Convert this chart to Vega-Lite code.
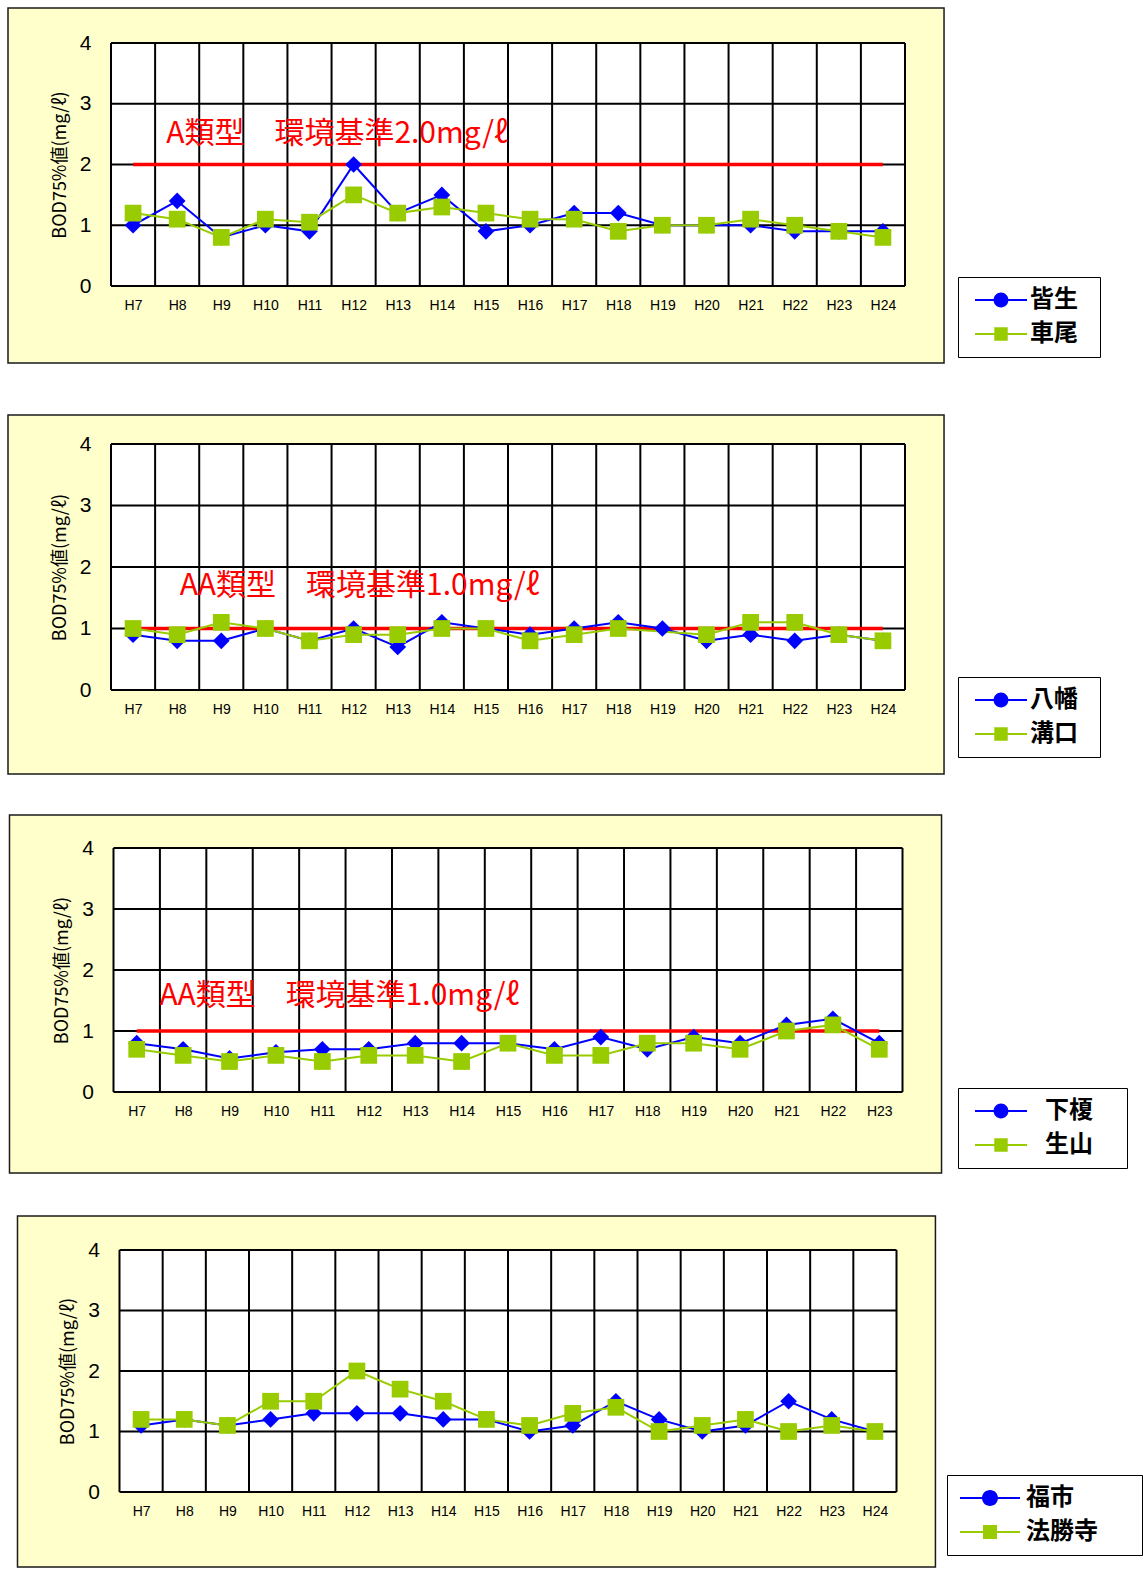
{
  "$schema": "https://vega.github.io/schema/vega-lite/v6.json",
  "background": "white",
  "padding": {"left": 7, "top": 7, "right": 0, "bottom": 0},
  "config": {
    "view": {"stroke": null},
    "axis": {"grid": false, "ticks": false, "tickSize": 0, "domain": false, "labelColor": "black", "titleColor": "black"},
    "axisX": {"labelFont": "Liberation Sans", "labelFontSize": 14, "labelPadding": 12},
    "axisY": {"labelFont": "Liberation Sans", "labelFontSize": 21, "labelPadding": 20, "titleFont": "Noto Sans CJK JP", "titleFontSize": 18, "titleFontWeight": "normal", "titlePadding": 10},
    "legend": {"padding": 11, "symbolSize": 576, "symbolOffset": 20, "labelFontSize": 24, "labelFont": "Noto Sans CJK JP", "labelFontWeight": "bold", "labelColor": "black", "strokeColor": "black", "fillColor": "white", "rowPadding": 10, "labelOffset": 17, "symbolStrokeWidth": 0, "symbolOpacity": 1}
  },
  "datasets": {
    "p1": [
      {"site": "皆生", "year": 7, "value": 1.0}, {"site": "皆生", "year": 8, "value": 1.4}, {"site": "皆生", "year": 9, "value": 0.8}, {"site": "皆生", "year": 10, "value": 1.0}, {"site": "皆生", "year": 11, "value": 0.9}, {"site": "皆生", "year": 12, "value": 2.0}, {"site": "皆生", "year": 13, "value": 1.2}, {"site": "皆生", "year": 14, "value": 1.5}, {"site": "皆生", "year": 15, "value": 0.9}, {"site": "皆生", "year": 16, "value": 1.0}, {"site": "皆生", "year": 17, "value": 1.2}, {"site": "皆生", "year": 18, "value": 1.2}, {"site": "皆生", "year": 19, "value": 1.0}, {"site": "皆生", "year": 20, "value": 1.0}, {"site": "皆生", "year": 21, "value": 1.0}, {"site": "皆生", "year": 22, "value": 0.9}, {"site": "皆生", "year": 23, "value": 0.9}, {"site": "皆生", "year": 24, "value": 0.9},
      {"site": "車尾", "year": 7, "value": 1.2}, {"site": "車尾", "year": 8, "value": 1.1}, {"site": "車尾", "year": 9, "value": 0.8}, {"site": "車尾", "year": 10, "value": 1.1}, {"site": "車尾", "year": 11, "value": 1.05}, {"site": "車尾", "year": 12, "value": 1.5}, {"site": "車尾", "year": 13, "value": 1.2}, {"site": "車尾", "year": 14, "value": 1.3}, {"site": "車尾", "year": 15, "value": 1.2}, {"site": "車尾", "year": 16, "value": 1.1}, {"site": "車尾", "year": 17, "value": 1.1}, {"site": "車尾", "year": 18, "value": 0.9}, {"site": "車尾", "year": 19, "value": 1.0}, {"site": "車尾", "year": 20, "value": 1.0}, {"site": "車尾", "year": 21, "value": 1.1}, {"site": "車尾", "year": 22, "value": 1.0}, {"site": "車尾", "year": 23, "value": 0.9}, {"site": "車尾", "year": 24, "value": 0.8}
    ],
    "p2": [
      {"site": "八幡", "year": 7, "value": 0.9}, {"site": "八幡", "year": 8, "value": 0.8}, {"site": "八幡", "year": 9, "value": 0.8}, {"site": "八幡", "year": 10, "value": 1.0}, {"site": "八幡", "year": 11, "value": 0.8}, {"site": "八幡", "year": 12, "value": 1.0}, {"site": "八幡", "year": 13, "value": 0.7}, {"site": "八幡", "year": 14, "value": 1.1}, {"site": "八幡", "year": 15, "value": 1.0}, {"site": "八幡", "year": 16, "value": 0.9}, {"site": "八幡", "year": 17, "value": 1.0}, {"site": "八幡", "year": 18, "value": 1.1}, {"site": "八幡", "year": 19, "value": 1.0}, {"site": "八幡", "year": 20, "value": 0.8}, {"site": "八幡", "year": 21, "value": 0.9}, {"site": "八幡", "year": 22, "value": 0.8}, {"site": "八幡", "year": 23, "value": 0.9}, {"site": "八幡", "year": 24, "value": 0.8},
      {"site": "溝口", "year": 7, "value": 1.0}, {"site": "溝口", "year": 8, "value": 0.9}, {"site": "溝口", "year": 9, "value": 1.1}, {"site": "溝口", "year": 10, "value": 1.0}, {"site": "溝口", "year": 11, "value": 0.8}, {"site": "溝口", "year": 12, "value": 0.9}, {"site": "溝口", "year": 13, "value": 0.9}, {"site": "溝口", "year": 14, "value": 1.0}, {"site": "溝口", "year": 15, "value": 1.0}, {"site": "溝口", "year": 16, "value": 0.8}, {"site": "溝口", "year": 17, "value": 0.9}, {"site": "溝口", "year": 18, "value": 1.0}, {"site": "溝口", "year": 20, "value": 0.9}, {"site": "溝口", "year": 21, "value": 1.1}, {"site": "溝口", "year": 22, "value": 1.1}, {"site": "溝口", "year": 23, "value": 0.9}, {"site": "溝口", "year": 24, "value": 0.8}
    ],
    "p3": [
      {"site": "下榎", "year": 7, "value": 0.8}, {"site": "下榎", "year": 8, "value": 0.7}, {"site": "下榎", "year": 9, "value": 0.55}, {"site": "下榎", "year": 10, "value": 0.65}, {"site": "下榎", "year": 11, "value": 0.7}, {"site": "下榎", "year": 12, "value": 0.7}, {"site": "下榎", "year": 13, "value": 0.8}, {"site": "下榎", "year": 14, "value": 0.8}, {"site": "下榎", "year": 15, "value": 0.8}, {"site": "下榎", "year": 16, "value": 0.7}, {"site": "下榎", "year": 17, "value": 0.9}, {"site": "下榎", "year": 18, "value": 0.7}, {"site": "下榎", "year": 19, "value": 0.9}, {"site": "下榎", "year": 20, "value": 0.8}, {"site": "下榎", "year": 21, "value": 1.1}, {"site": "下榎", "year": 22, "value": 1.2}, {"site": "下榎", "year": 23, "value": 0.8},
      {"site": "生山", "year": 7, "value": 0.7}, {"site": "生山", "year": 8, "value": 0.6}, {"site": "生山", "year": 9, "value": 0.5}, {"site": "生山", "year": 10, "value": 0.6}, {"site": "生山", "year": 11, "value": 0.5}, {"site": "生山", "year": 12, "value": 0.6}, {"site": "生山", "year": 13, "value": 0.6}, {"site": "生山", "year": 14, "value": 0.5}, {"site": "生山", "year": 15, "value": 0.8}, {"site": "生山", "year": 16, "value": 0.6}, {"site": "生山", "year": 17, "value": 0.6}, {"site": "生山", "year": 18, "value": 0.8}, {"site": "生山", "year": 19, "value": 0.8}, {"site": "生山", "year": 20, "value": 0.7}, {"site": "生山", "year": 21, "value": 1.0}, {"site": "生山", "year": 22, "value": 1.1}, {"site": "生山", "year": 23, "value": 0.7}
    ],
    "p4": [
      {"site": "福市", "year": 7, "value": 1.1}, {"site": "福市", "year": 8, "value": 1.2}, {"site": "福市", "year": 9, "value": 1.1}, {"site": "福市", "year": 10, "value": 1.2}, {"site": "福市", "year": 11, "value": 1.3}, {"site": "福市", "year": 12, "value": 1.3}, {"site": "福市", "year": 13, "value": 1.3}, {"site": "福市", "year": 14, "value": 1.2}, {"site": "福市", "year": 15, "value": 1.2}, {"site": "福市", "year": 16, "value": 1.0}, {"site": "福市", "year": 17, "value": 1.1}, {"site": "福市", "year": 18, "value": 1.5}, {"site": "福市", "year": 19, "value": 1.2}, {"site": "福市", "year": 20, "value": 1.0}, {"site": "福市", "year": 21, "value": 1.1}, {"site": "福市", "year": 22, "value": 1.5}, {"site": "福市", "year": 23, "value": 1.2}, {"site": "福市", "year": 24, "value": 1.0},
      {"site": "法勝寺", "year": 7, "value": 1.2}, {"site": "法勝寺", "year": 8, "value": 1.2}, {"site": "法勝寺", "year": 9, "value": 1.1}, {"site": "法勝寺", "year": 10, "value": 1.5}, {"site": "法勝寺", "year": 11, "value": 1.5}, {"site": "法勝寺", "year": 12, "value": 2.0}, {"site": "法勝寺", "year": 13, "value": 1.7}, {"site": "法勝寺", "year": 14, "value": 1.5}, {"site": "法勝寺", "year": 15, "value": 1.2}, {"site": "法勝寺", "year": 16, "value": 1.1}, {"site": "法勝寺", "year": 17, "value": 1.3}, {"site": "法勝寺", "year": 18, "value": 1.4}, {"site": "法勝寺", "year": 19, "value": 1.0}, {"site": "法勝寺", "year": 20, "value": 1.1}, {"site": "法勝寺", "year": 21, "value": 1.2}, {"site": "法勝寺", "year": 22, "value": 1.0}, {"site": "法勝寺", "year": 23, "value": 1.1}, {"site": "法勝寺", "year": 24, "value": 1.0}
    ],
    "vgrid18": [{"g": 6.5}, {"g": 7.5}, {"g": 8.5}, {"g": 9.5}, {"g": 10.5}, {"g": 11.5}, {"g": 12.5}, {"g": 13.5}, {"g": 14.5}, {"g": 15.5}, {"g": 16.5}, {"g": 17.5}, {"g": 18.5}, {"g": 19.5}, {"g": 20.5}, {"g": 21.5}, {"g": 22.5}, {"g": 23.5}, {"g": 24.5}],
    "vgrid17": [{"g": 6.5}, {"g": 7.5}, {"g": 8.5}, {"g": 9.5}, {"g": 10.5}, {"g": 11.5}, {"g": 12.5}, {"g": 13.5}, {"g": 14.5}, {"g": 15.5}, {"g": 16.5}, {"g": 17.5}, {"g": 18.5}, {"g": 19.5}, {"g": 20.5}, {"g": 21.5}, {"g": 22.5}, {"g": 23.5}],
    "hgrid": [{"g": 0}, {"g": 1}, {"g": 2}, {"g": 3}, {"g": 4}]
  },
  "bounds": "flush",
  "center": true,
  "spacing": 158,
  "resolve": {"scale": {"color": "independent", "shape": "independent"}, "legend": {"color": "independent", "shape": "independent"}},
  "vconcat": [
    {
      "width": 794, "height": 243,
      "data": {"name": "p1"},
      "layer": [
        {"mark": {"type": "point", "filled": true, "opacity": 1}, "encoding": {
          "x": {"field": "year", "type": "quantitative", "scale": {"domain": [6.5, 24.5], "nice": false, "zero": false}, "axis": {"values": [7, 8, 9, 10, 11, 12, 13, 14, 15, 16, 17, 18, 19, 20, 21, 22, 23, 24], "labelExpr": "'H' + datum.value", "title": null, "labelFlush": false, "labelOverlap": false, "zindex": 1}},
          "y": {"field": "value", "type": "quantitative", "scale": {"domain": [0, 4], "nice": false, "zero": false}, "axis": {"values": [0, 1, 2, 3, 4], "format": "d", "title": "BOD75%値(mg/ℓ)", "labelFlush": false, "zindex": 1}},
          "color": {"field": "site", "type": "nominal", "scale": {"domain": ["皆生", "車尾"], "range": ["#0000FF", "#99CC00"]}, "legend": {"orient": "none", "legendX": 847, "legendY": 234, "title": null}},
          "shape": {"field": "site", "type": "nominal", "scale": {"domain": ["皆生", "車尾"], "range": ["M-2.1667,-0.083L2.1667,-0.083L2.1667,0.083L-2.1667,0.083Z M0.617,0A0.617,0.617 0 1 1 -0.617,0A0.617,0.617 0 1 1 0.617,0Z M-2.6667,0 M7.33,0", "M-2.1667,-0.083L2.1667,-0.083L2.1667,0.083L-2.1667,0.083Z M-0.56,-0.56L0.56,-0.56L0.56,0.56L-0.56,0.56Z M-2.6667,0 M7.33,0"]}, "legend": {"orient": "none", "legendX": 847, "legendY": 234, "title": null}}}},
        {"data": {"values": [{}]}, "mark": {"type": "rect", "fill": "#FFFFCC", "stroke": "#1a1a1a", "strokeWidth": 1.5}, "encoding": {"x": {"datum": 4.165}, "x2": {"datum": 25.385}, "y": {"datum": 4.576}, "y2": {"datum": -1.267}}},
        {"data": {"values": [{}]}, "mark": {"type": "rect", "fill": "white"}, "encoding": {"x": {"datum": 6.5}, "x2": {"datum": 24.5}, "y": {"datum": 0}, "y2": {"datum": 4}}},
        {"data": {"values": [{}]}, "mark": {"type": "rect", "fill": "white"}, "encoding": {"x": {"datum": 7.5}, "x2": {"datum": 16.0}, "y": {"datum": 2.05}, "y2": {"datum": 2.985}}},
        {"data": {"name": "vgrid18"}, "mark": {"type": "rule", "color": "black", "strokeWidth": 2}, "encoding": {"x": {"field": "g", "type": "quantitative"}}},
        {"data": {"name": "hgrid"}, "mark": {"type": "rule", "color": "black", "strokeWidth": 2}, "encoding": {"y": {"field": "g", "type": "quantitative"}}},
        {"data": {"values": [{}]}, "mark": {"type": "rule", "color": "#FF0000", "strokeWidth": 3.5}, "encoding": {"x": {"datum": 7}, "x2": {"datum": 24}, "y": {"datum": 2}}},
        {"data": {"values": [{}]}, "mark": {"type": "text", "text": "A類型　環境基準2.0mg/ℓ", "align": "left", "baseline": "middle", "font": "Noto Sans CJK JP", "fontSize": 30, "color": "#FF0000"}, "encoding": {"x": {"datum": 7.75}, "y": {"datum": 2.5}}},
        {"mark": {"type": "line", "strokeWidth": 2}, "encoding": {
          "x": {"field": "year", "type": "quantitative"},
          "y": {"field": "value", "type": "quantitative"},
          "color": {"field": "site", "type": "nominal", "legend": null}}},
        {"mark": {"type": "point", "filled": true, "opacity": 1, "size": 280}, "encoding": {
          "x": {"field": "year", "type": "quantitative"},
          "y": {"field": "value", "type": "quantitative"},
          "color": {"field": "site", "type": "nominal", "legend": null},
          "shape": {"condition": {"test": "datum.site === '皆生'", "value": "diamond"}, "value": "square"}}}
      ]
    },
    {
      "width": 794, "height": 246,
      "data": {"name": "p2"},
      "layer": [
        {"mark": {"type": "point", "filled": true, "opacity": 1}, "encoding": {
          "x": {"field": "year", "type": "quantitative", "scale": {"domain": [6.5, 24.5], "nice": false, "zero": false}, "axis": {"values": [7, 8, 9, 10, 11, 12, 13, 14, 15, 16, 17, 18, 19, 20, 21, 22, 23, 24], "labelExpr": "'H' + datum.value", "title": null, "labelFlush": false, "labelOverlap": false, "zindex": 1}},
          "y": {"field": "value", "type": "quantitative", "scale": {"domain": [0, 4], "nice": false, "zero": false}, "axis": {"values": [0, 1, 2, 3, 4], "format": "d", "title": "BOD75%値(mg/ℓ)", "labelFlush": false, "zindex": 1}},
          "color": {"field": "site", "type": "nominal", "scale": {"domain": ["八幡", "溝口"], "range": ["#0000FF", "#99CC00"]}, "legend": {"orient": "none", "legendX": 847, "legendY": 233, "title": null}},
          "shape": {"field": "site", "type": "nominal", "scale": {"domain": ["八幡", "溝口"], "range": ["M-2.1667,-0.083L2.1667,-0.083L2.1667,0.083L-2.1667,0.083Z M0.617,0A0.617,0.617 0 1 1 -0.617,0A0.617,0.617 0 1 1 0.617,0Z M-2.6667,0 M7.33,0", "M-2.1667,-0.083L2.1667,-0.083L2.1667,0.083L-2.1667,0.083Z M-0.56,-0.56L0.56,-0.56L0.56,0.56L-0.56,0.56Z M-2.6667,0 M7.33,0"]}, "legend": {"orient": "none", "legendX": 847, "legendY": 233, "title": null}}}},
        {"data": {"values": [{}]}, "mark": {"type": "rect", "fill": "#FFFFCC", "stroke": "#1a1a1a", "strokeWidth": 1.5}, "encoding": {"x": {"datum": 4.165}, "x2": {"datum": 25.385}, "y": {"datum": 4.472}, "y2": {"datum": -1.366}}},
        {"data": {"values": [{}]}, "mark": {"type": "rect", "fill": "white"}, "encoding": {"x": {"datum": 6.5}, "x2": {"datum": 24.5}, "y": {"datum": 0}, "y2": {"datum": 4}}},
        {"data": {"values": [{}]}, "mark": {"type": "rect", "fill": "white"}, "encoding": {"x": {"datum": 7.5}, "x2": {"datum": 17.8}, "y": {"datum": 1.33}, "y2": {"datum": 2.1}}},
        {"data": {"name": "vgrid18"}, "mark": {"type": "rule", "color": "black", "strokeWidth": 2}, "encoding": {"x": {"field": "g", "type": "quantitative"}}},
        {"data": {"name": "hgrid"}, "mark": {"type": "rule", "color": "black", "strokeWidth": 2}, "encoding": {"y": {"field": "g", "type": "quantitative"}}},
        {"data": {"values": [{}]}, "mark": {"type": "rule", "color": "#FF0000", "strokeWidth": 3.5}, "encoding": {"x": {"datum": 7}, "x2": {"datum": 24}, "y": {"datum": 1}}},
        {"data": {"values": [{}]}, "mark": {"type": "text", "text": "AA類型　環境基準1.0mg/ℓ", "align": "left", "baseline": "middle", "font": "Noto Sans CJK JP", "fontSize": 30, "color": "#FF0000"}, "encoding": {"x": {"datum": 8.06}, "y": {"datum": 1.69}}},
        {"mark": {"type": "line", "strokeWidth": 2}, "encoding": {
          "x": {"field": "year", "type": "quantitative"},
          "y": {"field": "value", "type": "quantitative"},
          "color": {"field": "site", "type": "nominal", "legend": null}}},
        {"mark": {"type": "point", "filled": true, "opacity": 1, "size": 280}, "encoding": {
          "x": {"field": "year", "type": "quantitative"},
          "y": {"field": "value", "type": "quantitative"},
          "color": {"field": "site", "type": "nominal", "legend": null},
          "shape": {"condition": {"test": "datum.site === '八幡'", "value": "diamond"}, "value": "square"}}}
      ]
    },
    {
      "width": 789, "height": 244,
      "data": {"name": "p3"},
      "layer": [
        {"mark": {"type": "point", "filled": true, "opacity": 1}, "encoding": {
          "x": {"field": "year", "type": "quantitative", "scale": {"domain": [6.5, 23.5], "nice": false, "zero": false}, "axis": {"values": [7, 8, 9, 10, 11, 12, 13, 14, 15, 16, 17, 18, 19, 20, 21, 22, 23], "labelExpr": "'H' + datum.value", "title": null, "labelFlush": false, "labelOverlap": false, "zindex": 1}},
          "y": {"field": "value", "type": "quantitative", "scale": {"domain": [0, 4], "nice": false, "zero": false}, "axis": {"values": [0, 1, 2, 3, 4], "format": "d", "title": "BOD75%値(mg/ℓ)", "labelFlush": false, "zindex": 1}},
          "color": {"field": "site", "type": "nominal", "scale": {"domain": ["下榎", "生山"], "range": ["#0000FF", "#99CC00"]}, "legend": {"orient": "none", "legendX": 844.5, "legendY": 240, "title": null, "labelOffset": 32}},
          "shape": {"field": "site", "type": "nominal", "scale": {"domain": ["下榎", "生山"], "range": ["M-2.1667,-0.083L2.1667,-0.083L2.1667,0.083L-2.1667,0.083Z M0.617,0A0.617,0.617 0 1 1 -0.617,0A0.617,0.617 0 1 1 0.617,0Z M-2.6667,0 M9.58,0", "M-2.1667,-0.083L2.1667,-0.083L2.1667,0.083L-2.1667,0.083Z M-0.56,-0.56L0.56,-0.56L0.56,0.56L-0.56,0.56Z M-2.6667,0 M9.58,0"]}, "legend": {"orient": "none", "legendX": 844.5, "legendY": 240, "title": null, "labelOffset": 32}}}},
        {"data": {"values": [{}]}, "mark": {"type": "rect", "fill": "#FFFFCC", "stroke": "#1a1a1a", "strokeWidth": 1.5}, "encoding": {"x": {"datum": 4.259}, "x2": {"datum": 24.341}, "y": {"datum": 4.541}, "y2": {"datum": -1.328}}},
        {"data": {"values": [{}]}, "mark": {"type": "rect", "fill": "white"}, "encoding": {"x": {"datum": 6.5}, "x2": {"datum": 23.5}, "y": {"datum": 0}, "y2": {"datum": 4}}},
        {"data": {"values": [{}]}, "mark": {"type": "rect", "fill": "white"}, "encoding": {"x": {"datum": 7.02}, "x2": {"datum": 15.42}, "y": {"datum": 1.16}, "y2": {"datum": 2.02}}},
        {"data": {"name": "vgrid17"}, "mark": {"type": "rule", "color": "black", "strokeWidth": 2}, "encoding": {"x": {"field": "g", "type": "quantitative"}}},
        {"data": {"name": "hgrid"}, "mark": {"type": "rule", "color": "black", "strokeWidth": 2}, "encoding": {"y": {"field": "g", "type": "quantitative"}}},
        {"data": {"values": [{}]}, "mark": {"type": "rule", "color": "#FF0000", "strokeWidth": 3.5}, "encoding": {"x": {"datum": 7}, "x2": {"datum": 23}, "y": {"datum": 1}}},
        {"data": {"values": [{}]}, "mark": {"type": "text", "text": "AA類型　環境基準1.0mg/ℓ", "align": "left", "baseline": "middle", "font": "Noto Sans CJK JP", "fontSize": 30, "color": "#FF0000"}, "encoding": {"x": {"datum": 7.49}, "y": {"datum": 1.57}}},
        {"mark": {"type": "line", "strokeWidth": 2}, "encoding": {
          "x": {"field": "year", "type": "quantitative"},
          "y": {"field": "value", "type": "quantitative"},
          "color": {"field": "site", "type": "nominal", "legend": null}}},
        {"mark": {"type": "point", "filled": true, "opacity": 1, "size": 280}, "encoding": {
          "x": {"field": "year", "type": "quantitative"},
          "y": {"field": "value", "type": "quantitative"},
          "color": {"field": "site", "type": "nominal", "legend": null},
          "shape": {"condition": {"test": "datum.site === '下榎'", "value": "diamond"}, "value": "square"}}}
      ]
    },
    {
      "width": 777, "height": 242,
      "data": {"name": "p4"},
      "layer": [
        {"mark": {"type": "point", "filled": true, "opacity": 1}, "encoding": {
          "x": {"field": "year", "type": "quantitative", "scale": {"domain": [6.5, 24.5], "nice": false, "zero": false}, "axis": {"values": [7, 8, 9, 10, 11, 12, 13, 14, 15, 16, 17, 18, 19, 20, 21, 22, 23, 24], "labelExpr": "'H' + datum.value", "title": null, "labelFlush": false, "labelOverlap": false, "zindex": 1}},
          "y": {"field": "value", "type": "quantitative", "scale": {"domain": [0, 4], "nice": false, "zero": false}, "axis": {"values": [0, 1, 2, 3, 4], "format": "d", "title": "BOD75%値(mg/ℓ)", "labelFlush": false, "zindex": 1}},
          "color": {"field": "site", "type": "nominal", "scale": {"domain": ["福市", "法勝寺"], "range": ["#0000FF", "#99CC00"]}, "legend": {"orient": "none", "legendX": 827.5, "legendY": 225, "title": null, "labelOffset": 24}},
          "shape": {"field": "site", "type": "nominal", "scale": {"domain": ["福市", "法勝寺"], "range": ["M-2.5,-0.083L2.5,-0.083L2.5,0.083L-2.5,0.083Z M0.667,0A0.667,0.667 0 1 1 -0.667,0A0.667,0.667 0 1 1 0.667,0Z M-2.6667,0 M11.667,0", "M-2.5,-0.083L2.5,-0.083L2.5,0.083L-2.5,0.083Z M-0.583,-0.583L0.583,-0.583L0.583,0.583L-0.583,0.583Z M-2.6667,0 M11.667,0"]}, "legend": {"orient": "none", "legendX": 827.5, "legendY": 225, "title": null, "labelOffset": 24}}}},
        {"data": {"values": [{}]}, "mark": {"type": "rect", "fill": "#FFFFCC", "stroke": "#1a1a1a", "strokeWidth": 1.5}, "encoding": {"x": {"datum": 4.137}, "x2": {"datum": 25.402}, "y": {"datum": 4.562}, "y2": {"datum": -1.24}}},
        {"data": {"values": [{}]}, "mark": {"type": "rect", "fill": "white"}, "encoding": {"x": {"datum": 6.5}, "x2": {"datum": 24.5}, "y": {"datum": 0}, "y2": {"datum": 4}}},
        {"data": {"name": "vgrid18"}, "mark": {"type": "rule", "color": "black", "strokeWidth": 2}, "encoding": {"x": {"field": "g", "type": "quantitative"}}},
        {"data": {"name": "hgrid"}, "mark": {"type": "rule", "color": "black", "strokeWidth": 2}, "encoding": {"y": {"field": "g", "type": "quantitative"}}},
        {"mark": {"type": "line", "strokeWidth": 2}, "encoding": {
          "x": {"field": "year", "type": "quantitative"},
          "y": {"field": "value", "type": "quantitative"},
          "color": {"field": "site", "type": "nominal", "legend": null}}},
        {"mark": {"type": "point", "filled": true, "opacity": 1, "size": 280}, "encoding": {
          "x": {"field": "year", "type": "quantitative"},
          "y": {"field": "value", "type": "quantitative"},
          "color": {"field": "site", "type": "nominal", "legend": null},
          "shape": {"condition": {"test": "datum.site === '福市'", "value": "diamond"}, "value": "square"}}}
      ]
    }
  ]
}
